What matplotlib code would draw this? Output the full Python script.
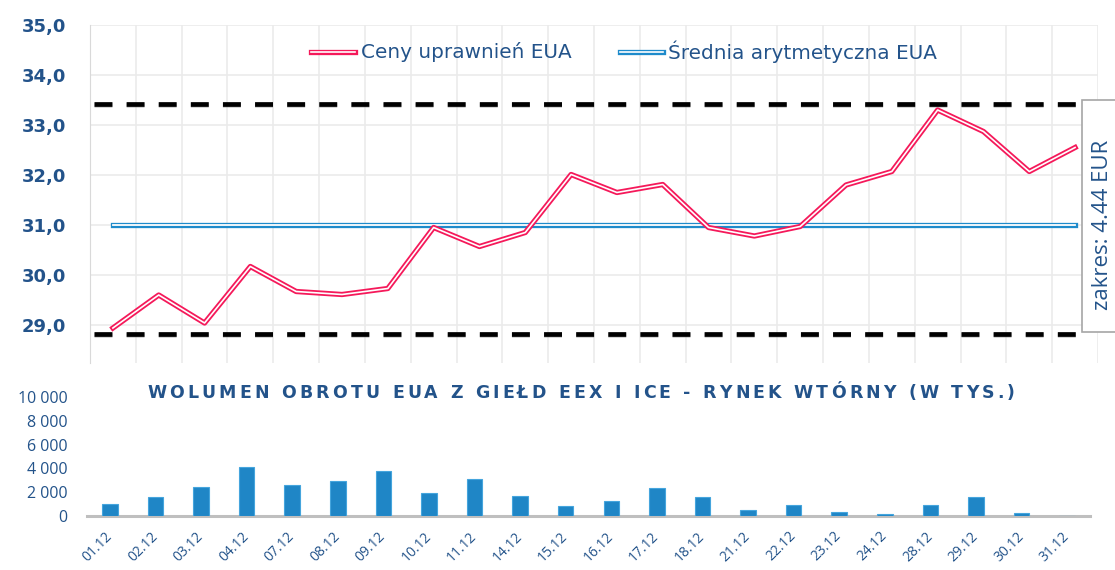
import numpy as np
import matplotlib
matplotlib.use("Agg")
import matplotlib.pyplot as plt
import matplotlib.patheffects as pe
from matplotlib.lines import Line2D
from matplotlib.patches import Rectangle

# data
days = ["01.12", "02.12", "03.12", "04.12", "07.12", "08.12", "09.12", "10.12",
        "11.12", "14.12", "15.12", "16.12", "17.12", "18.12", "21.12", "22.12",
        "23.12", "24.12", "28.12", "29.12", "30.12", "31.12"]
prices = [28.94, 29.60, 29.04, 30.17, 29.67, 29.61, 29.73, 30.95, 30.57, 30.85,
          32.01, 31.65, 31.81, 30.95, 30.78, 30.97, 31.80, 32.07, 33.30, 32.87,
          32.07, 32.55]
volume = [1000, 1610, 2420, 4150, 2570, 2900, 3760, 1970, 3070, 1640,
          860, 1290, 2360, 1560, 520, 950, 340, 180, 950, 1560, 250, 0]
band_hi = 33.43
band_lo = 28.83
legend_labels = ["Ceny uprawnień EUA", "Średnia arytmetyczna EUA"]
range_label = "zakres: 4.44 EUR"
title2 = "WOLUMEN OBROTU EUA Z GIEŁD EEX I ICE - RYNEK WTÓRNY (W TYS.)"

navy = "#23538A"
red = "#F5195A"
blue = "#1E8BCB"
W, H = 1115, 570

fig = plt.figure(figsize=(W / 100, H / 100), dpi=100)
x = np.arange(len(days))
mean_price = np.mean(prices)

# ---- top chart: prices ----
ax1 = fig.add_axes([90 / W, (H - 363) / H, 1008 / W, 338 / H])
ax1.set_xlim(-0.5, len(days) - 0.5)
ax1.set_ylim(35 - 338 / 50, 35)
ax1.set_xticks(np.arange(-0.5, len(days), 1))
ax1.set_xticklabels([])
ax1.set_yticks(np.arange(29, 35.5, 1))
ax1.set_yticklabels([f"{v:.1f}".replace(".", ",") for v in np.arange(29, 35.5, 1)])
ax1.tick_params(length=0, pad=17, labelsize=13, labelcolor=navy)
for lab in ax1.get_yticklabels():
    lab.set_fontweight("bold")
ax1.grid(True, color="#EBEBEB", lw=1.2)
ax1.set_axisbelow(True)
for s in ["top", "right", "bottom"]:
    ax1.spines[s].set_visible(False)
ax1.spines["left"].set_color("#D9D9D9")

shadow = [pe.SimpleLineShadow(offset=(0.6, -1.2), shadow_color="#777777", alpha=0.35), pe.Normal()]
for lvl in [band_hi, band_lo]:
    ax1.plot([-0.42, len(days) - 0.95], [lvl, lvl], color="black", lw=3.4,
             dashes=(3.8, 3.0), solid_capstyle="butt", path_effects=shadow, zorder=3)

ax1.plot([0, len(days) - 1], [mean_price, mean_price], color=blue, lw=3.8, zorder=4)
ax1.plot([0, len(days) - 1], [mean_price, mean_price], color="white", lw=1.3, zorder=4)
ax1.plot(x, prices, color=red, lw=3.8, zorder=5)
ax1.plot(x, prices, color="white", lw=1.2, zorder=5)

# legend drawn by hand, double lines like the series
for (x0, x1, tx), col, lab in [((311, 355, 361), red, legend_labels[0]),
                               ((620, 663, 668), blue, legend_labels[1])]:
    yy = 1 - 52 / H
    fig.add_artist(Line2D([x0 / W, x1 / W], [yy, yy], color=col, lw=3.8, transform=fig.transFigure))
    fig.add_artist(Line2D([x0 / W, x1 / W], [yy, yy], color="white", lw=1.2, transform=fig.transFigure))
    fig.text(tx / W, yy, lab, ha="left", va="center", fontsize=14.4, color=navy)

# range box on the right
fig.patches.append(Rectangle((1082 / W, 1 - 332 / H), 60 / W, 232 / H, transform=fig.transFigure,
                             facecolor="white", edgecolor="#A6A6A6", lw=1.2, zorder=6))
fig.text(1103 / W, 1 - 225 / H, range_label, rotation=90, ha="center", va="center",
         fontsize=16, color=navy, family=["Open Sans", "DejaVu Sans"], zorder=7)

# ---- bottom chart: volume ----
ax2 = fig.add_axes([87 / W, (H - 516) / H, 1003 / W, 119 / H])
ax2.set_xlim(-0.5, len(days) - 0.5)
ax2.set_ylim(0, 10000)
ax2.bar(x, volume, width=0.34, color="#1F86C6", edgecolor="#45A5DD", lw=0.8, zorder=3)
ax2.set_yticks(np.arange(0, 10001, 2000))
ax2.set_yticklabels([f"{v:,}".replace(",", " ") for v in range(0, 10001, 2000)],
                    family="Open Sans", fontsize=11.5, color=navy)
ax2.set_xticks(x)
ax2.set_xticklabels(days, rotation=45, ha="right", va="center", rotation_mode="anchor",
                    family="Open Sans", fontsize=10, color=navy)
ax2.tick_params(axis="y", length=0, pad=14)
ax2.tick_params(axis="x", length=0, pad=13)
for s in ["top", "right", "left"]:
    ax2.spines[s].set_visible(False)
ax2.spines["bottom"].set_color("#BFBFBF")
ax2.spines["bottom"].set_linewidth(2.2)

# letter-spaced title
renderer = fig.canvas.get_renderer()
tkw = dict(fontsize=12.5, fontweight="bold", color=navy, va="center", ha="left")
def text_w(s):
    t = fig.text(0, 0, s, **tkw)
    w = t.get_window_extent(renderer).width
    t.remove()
    return w
space_w = text_w("i i") - text_w("ii")
widths = [space_w if ch == " " else text_w(ch) for ch in title2]
left_px, right_px = 147, 1015
track = (right_px - left_px - sum(widths)) / (len(title2) - 1)
pos = left_px
for ch, w in zip(title2, widths):
    if ch != " ":
        fig.text(pos / W, 1 - 393 / H, ch, **tkw)
    pos += w + track

fig.savefig("out.png", dpi=100)
